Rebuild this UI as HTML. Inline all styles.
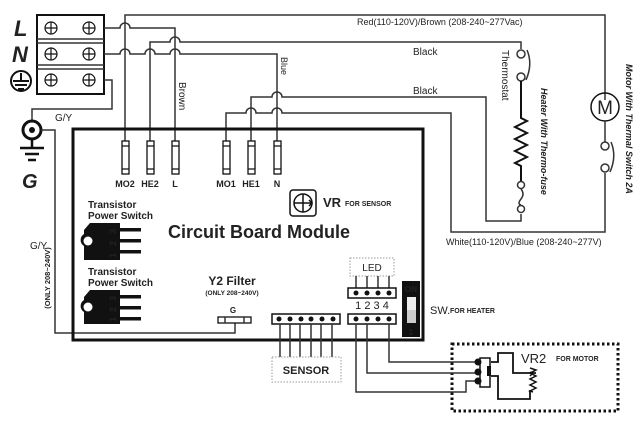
<!DOCTYPE html>
<html><head><meta charset="utf-8"><style>
html,body{margin:0;padding:0;background:#fff;}
svg{display:block;}
text{font-family:"Liberation Sans",Arial,sans-serif;fill:#222;}
.b{font-weight:bold;}
</style></head><body>
<svg width="641" height="423" viewBox="0 0 641 423" xmlns="http://www.w3.org/2000/svg">
<g fill="none" stroke="#333" stroke-width="1.5">
<rect x="37" y="15" width="67" height="79" stroke="#111" stroke-width="2"/>
<line x1="37" y1="39" x2="104" y2="39"/><line x1="37" y1="43" x2="104" y2="43"/>
<line x1="37" y1="65" x2="104" y2="65"/><line x1="37" y1="69" x2="104" y2="69"/>
<g stroke="#111" stroke-width="1.2">
<circle cx="51" cy="28" r="6"/><circle cx="89" cy="28" r="6"/>
<circle cx="51" cy="54" r="6"/><circle cx="89" cy="54" r="6"/>
<circle cx="51" cy="80" r="6"/><circle cx="89" cy="80" r="6"/>
<path d="M45 28h12M51 22v12M83 28h12M89 22v12M45 54h12M51 48v12M83 54h12M89 48v12M45 80h12M51 74v12M83 80h12M89 74v12"/>
</g>
<circle cx="21" cy="81" r="10" stroke="#111" stroke-width="2"/>
<path d="M21 73v8M13 81h16M15 85h12M18 89h6" stroke="#111" stroke-width="2"/>
<path d="M125 143V15H605V100"/>
<path d="M104 28H120a5 5 0 0 1 10 0H175V143"/>
<path d="M150 143V42H170a5 5 0 0 1 10 0H521V49"/>
<path d="M104 54H120a5 5 0 0 1 10 0H145a5 5 0 0 1 10 0H170a5 5 0 0 1 10 0H277V143"/>
<path d="M104 80H112V109H32V121"/>
<path d="M226 143V113H246a5 5 0 0 1 10 0H272a5 5 0 0 1 10 0H451V232H605V173"/>
<path d="M251 143V97H272a5 5 0 0 1 10 0H486V221H521V214"/>
<circle cx="32" cy="130" r="9" stroke="#111" stroke-width="3"/>
<circle cx="32" cy="130" r="3" fill="#111" stroke="none"/>
<path d="M32 139v9M20 148h24M25 154h14M28 160h8" stroke="#111" stroke-width="2.5"/>
<path d="M41 130H55V333H235V323"/>
<rect x="73" y="129" width="350" height="211" stroke="#111" stroke-width="3"/>
<g stroke="#111" stroke-width="1.3" fill="#fff">
<rect x="122" y="141" width="7" height="33"/><rect x="147" y="141" width="7" height="33"/><rect x="172" y="141" width="7" height="33"/>
<rect x="223" y="141" width="7" height="33"/><rect x="248" y="141" width="7" height="33"/><rect x="274" y="141" width="7" height="33"/>
<path d="M122 146h7M122 169h7M147 146h7M147 169h7M172 146h7M172 169h7M223 146h7M223 169h7M248 146h7M248 169h7M274 146h7M274 169h7"/>
</g>
<rect x="290" y="190" width="26" height="26" rx="3" stroke="#111"/>
<circle cx="303" cy="203" r="9" stroke="#111" stroke-width="1.5"/>
<path d="M294 203h18M303 194v18M309 200l3 3-3 3" stroke="#111"/>
<circle cx="521" cy="54" r="4" fill="#fff"/><circle cx="521" cy="77" r="4" fill="#fff"/>
<path d="M527 50q6 14 -1 30"/>
<path d="M521 81V118l6 3-12 6 12 6-12 6 12 6-12 6 12 6-12 6 6 3V181" stroke="#111" stroke-width="2"/>
<circle cx="521" cy="185" r="3.5" fill="#fff"/><circle cx="521" cy="209" r="3.5" fill="#fff"/>
<path d="M521 189q4 5 0 10t0 6"/>
<circle cx="605" cy="107" r="14" stroke="#111" stroke-width="1.5"/>
<path d="M605 121V142"/>
<circle cx="605" cy="146" r="4" fill="#fff"/><circle cx="605" cy="168" r="4" fill="#fff"/>
<path d="M611 142q6 14 -1 30"/>
<g fill="#111" stroke="none">
<path d="M90 223H120V260H84V246a7 7 0 0 1 0-12V230Z"/>
<path d="M90 290H120V324H84V312a7 7 0 0 1 0-12V297Z"/>
<rect x="120" y="228" width="21" height="3.5"/><rect x="120" y="239" width="21" height="3.5"/><rect x="120" y="250" width="21" height="3.5"/>
<rect x="120" y="295" width="21" height="3.5"/><rect x="120" y="306" width="21" height="3.5"/><rect x="120" y="317" width="21" height="3.5"/>
</g>
<circle cx="88" cy="241" r="4.5" fill="#fff" stroke="none"/>
<circle cx="88" cy="307" r="4.5" fill="#fff" stroke="none"/>
<rect x="218" y="317" width="33" height="6" stroke="#111" stroke-width="1.3"/>
<path d="M225 317v6M244 317v6"/>
<rect x="272" y="314" width="68" height="10" stroke="#111" stroke-width="1.5"/>
<path d="M280 324v33M290 324v33M300 324v33M311 324v33M321 324v33M332 324v33"/>
<rect x="272" y="357" width="69" height="25" stroke="#999" stroke-width="1" stroke-dasharray="1.5 1.5"/>
<rect x="350" y="258" width="44" height="18" stroke="#999" stroke-width="1" stroke-dasharray="1.5 1.5"/>
<path d="M356 276v12M367 276v12M378 276v12M389 276v12"/>
<rect x="348" y="288" width="48" height="10" stroke="#111" stroke-width="1.5"/>
<rect x="348" y="314" width="48" height="10" stroke="#111" stroke-width="1.5"/>
<rect x="402" y="281" width="18" height="56" fill="#111" stroke="none"/>
<rect x="407" y="297" width="9" height="26" fill="#eee" stroke="none"/>
<rect x="407" y="310" width="9" height="13" fill="#ccc" stroke="none"/>
<rect x="452" y="344" width="166" height="67" stroke="#111" stroke-width="3" stroke-dasharray="2.5 2.5"/>
<path d="M389 324V362H478M367 324V373H478M356 324V392H466V381H478"/>
<rect x="480" y="358" width="10" height="29" stroke="#111"/>
<rect x="487" y="366" width="4" height="10" fill="#111" stroke="none"/>
<path d="M491 362H498V353H513V373H536M491 376H498V399H530V390" stroke="#111" stroke-width="1.8"/>
<path d="M530 372l2 2-2 2" stroke="#111"/>
<path d="M530 368l6 2-6 3 6 3-6 3 6 3-6 3 6 3-6 3 3 1" stroke="#111" stroke-width="1.5"/>
</g>
<g fill="#111">
<circle cx="478" cy="362" r="3.5"/><circle cx="478" cy="372" r="3.5"/><circle cx="478" cy="381" r="3.5"/>
<circle cx="279" cy="319" r="2.5"/><circle cx="290" cy="319" r="2.5"/><circle cx="301" cy="319" r="2.5"/><circle cx="311" cy="319" r="2.5"/><circle cx="322" cy="319" r="2.5"/><circle cx="333" cy="319" r="2.5"/>
<circle cx="356" cy="293" r="2.5"/><circle cx="367" cy="293" r="2.5"/><circle cx="378" cy="293" r="2.5"/><circle cx="389" cy="293" r="2.5"/>
<circle cx="356" cy="319" r="2.5"/><circle cx="367" cy="319" r="2.5"/><circle cx="378" cy="319" r="2.5"/><circle cx="389" cy="319" r="2.5"/>
</g>
<text x="14" y="36" class="b" font-size="22" font-style="italic">L</text>
<text x="12" y="62" class="b" font-size="22" font-style="italic">N</text>
<text x="22" y="188" class="b" font-size="20" font-style="italic">G</text>
<text x="55" y="121" font-size="10">G/Y</text>
<text x="30" y="249" font-size="10">G/Y</text>
<text transform="translate(50,278) rotate(-90)" font-size="7.5" class="b" text-anchor="middle">(ONLY 208~240V)</text>
<text x="357" y="25" font-size="9">Red(110-120V)/Brown (208-240~277Vac)</text>
<text x="446" y="245" font-size="9">White(110-120V)/Blue (208-240~277V)</text>
<text x="413" y="55" font-size="10">Black</text>
<text x="413" y="94" font-size="10">Black</text>
<text transform="translate(179,82) rotate(90)" font-size="10">Brown</text>
<text transform="translate(281,57) rotate(90)" font-size="9">Blue</text>
<text transform="translate(502,50) rotate(90)" font-size="10">Thermostat</text>
<text transform="translate(541,88) rotate(90)" font-size="9" class="b" font-style="italic">Heater With Thermo-fuse</text>
<text transform="translate(626,64) rotate(90)" font-size="9" class="b" font-style="italic">Motor With Thermal Switch  2A</text>
<text x="605" y="114" font-size="19" text-anchor="middle">M</text>
<g class="b" font-size="9" text-anchor="middle">
<text x="125" y="187">MO2</text><text x="150" y="187">HE2</text><text x="175" y="187">L</text>
<text x="226" y="187">MO1</text><text x="251" y="187">HE1</text><text x="277" y="187">N</text>
</g>
<text x="323" y="207" class="b" font-size="13">VR</text>
<text x="345" y="206" class="b" font-size="7">FOR SENSOR</text>
<text x="168" y="238" class="b" font-size="18">Circuit Board Module</text>
<text x="88" y="208" class="b" font-size="10">Transistor</text>
<text x="88" y="219" class="b" font-size="10">Power Switch</text>
<text x="88" y="275" class="b" font-size="10">Transistor</text>
<text x="88" y="286" class="b" font-size="10">Power Switch</text>
<g fill="#fff" class="b" font-size="9">
<text transform="translate(116,258) rotate(-90)">1</text><text transform="translate(116,246) rotate(-90)">2</text><text transform="translate(116,234) rotate(-90)">3</text>
<text transform="translate(116,322) rotate(-90)">1</text><text transform="translate(116,312) rotate(-90)">2</text><text transform="translate(116,301) rotate(-90)">3</text>
</g>
<text x="232" y="285" class="b" font-size="12" text-anchor="middle">Y2 Filter</text>
<text x="232" y="295" class="b" font-size="6.5" text-anchor="middle">(ONLY 208~240V)</text>
<text x="233" y="313" class="b" font-size="8" text-anchor="middle">G</text>
<text x="306" y="374" class="b" font-size="11" text-anchor="middle">SENSOR</text>
<text x="372" y="271" font-size="10" text-anchor="middle">LED</text>
<text x="372" y="309" font-size="11" text-anchor="middle">1 2 3 4</text>
<text x="411" y="292" fill="#fff" class="b" font-size="8" text-anchor="middle">ON</text>
<text x="411" y="335" fill="#fff" class="b" font-size="8" text-anchor="middle">1</text>
<text x="430" y="314" font-size="11">SW.</text>
<text x="450" y="313" class="b" font-size="7">FOR HEATER</text>
<text x="521" y="363" font-size="13">VR2</text>
<text x="556" y="361" class="b" font-size="7">FOR MOTOR</text>
</svg>
</body></html>
